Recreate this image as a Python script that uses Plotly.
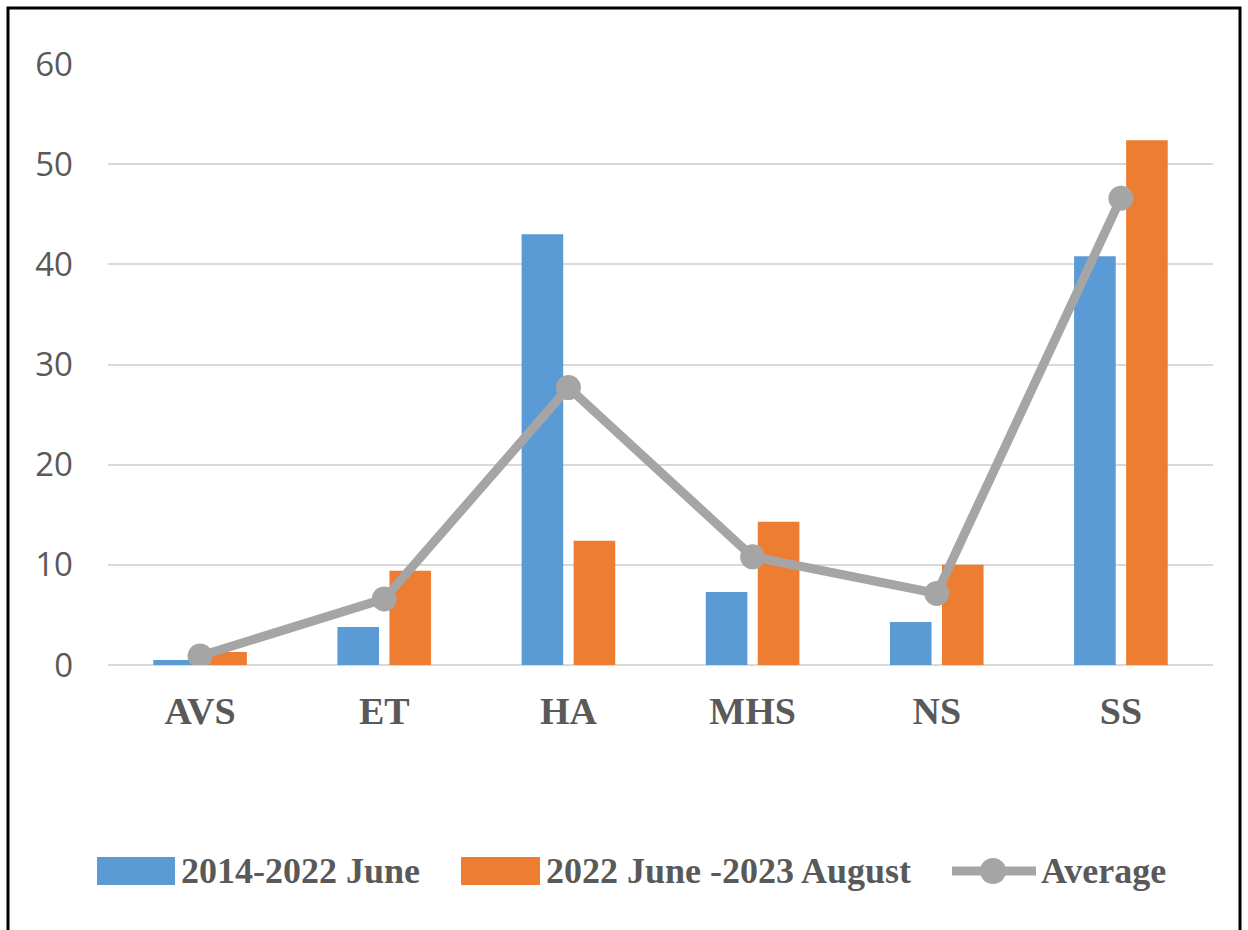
import plotly.graph_objects as go

categories = ["AVS", "ET", "HA", "MHS", "NS", "SS"]
series_2014_2022 = [0.5, 3.8, 43.0, 7.3, 4.3, 40.8]
series_2022_2023 = [1.3, 9.4, 12.4, 14.3, 10.0, 52.4]
series_average = [0.9, 6.6, 27.7, 10.8, 7.15, 46.6]
y_ticks = [0, 10, 20, 30, 40, 50, 60]
legend_labels = ["2014-2022 June", "2022 June -2023 August", "Average"]

BLUE = "#5B9BD5"
ORANGE = "#ED7D31"
GRAY = "#A5A5A5"
TEXT = "#595959"

L, R, T, B = 108, 35, 64, 265
W, H = 1248, 930
PW, PH = W - L - R, H - T - B


def px(x):
    return (x - L) / PW


def py(y):
    return (H - B - y) / PH


fig = go.Figure()
fig.add_trace(go.Bar(x=categories, y=series_2014_2022, name=legend_labels[0],
                     marker=dict(color=BLUE, line=dict(width=0))))
fig.add_trace(go.Bar(x=categories, y=series_2022_2023, name=legend_labels[1],
                     marker=dict(color=ORANGE, line=dict(width=0))))
fig.add_trace(go.Scatter(x=categories, y=series_average, name=legend_labels[2],
                         mode="lines+markers",
                         line=dict(color=GRAY, width=9),
                         marker=dict(color=GRAY, size=25)))

shapes = [
    # outer border
    dict(type="rect", xref="paper", yref="paper",
         x0=px(8), x1=px(1240), y0=py(8), y1=py(960),
         line=dict(color="black", width=3), fillcolor="rgba(0,0,0,0)", layer="above"),
    # legend symbols
    dict(type="rect", xref="paper", yref="paper",
         x0=px(97), x1=px(175), y0=py(885), y1=py(857),
         line=dict(width=0), fillcolor=BLUE),
    dict(type="rect", xref="paper", yref="paper",
         x0=px(461), x1=px(540), y0=py(885), y1=py(857),
         line=dict(width=0), fillcolor=ORANGE),
    dict(type="line", xref="paper", yref="paper",
         x0=px(952), x1=px(1036), y0=py(871), y1=py(871),
         line=dict(color=GRAY, width=9)),
    dict(type="circle", xref="paper", yref="paper",
         x0=px(980), x1=px(1006), y0=py(884), y1=py(858),
         line=dict(width=0), fillcolor=GRAY),
]

legend_font = dict(family="Liberation Serif", size=36, color=TEXT, weight="bold")
annotations = [
    dict(x=px(179), y=py(871), xref="paper", yref="paper", text=legend_labels[0],
         showarrow=False, xanchor="left", yanchor="middle", font=legend_font),
    dict(x=px(544), y=py(871), xref="paper", yref="paper", text=legend_labels[1],
         showarrow=False, xanchor="left", yanchor="middle", font=legend_font),
    dict(x=px(1039), y=py(871), xref="paper", yref="paper", text=legend_labels[2],
         showarrow=False, xanchor="left", yanchor="middle", font=legend_font),
]

fig.update_layout(
    width=W, height=H,
    margin=dict(l=L, r=R, t=T, b=B, pad=0),
    paper_bgcolor="white", plot_bgcolor="white",
    barmode="group", bargap=0.435, bargroupgap=0.2,
    showlegend=False,
    shapes=shapes,
    annotations=annotations,
    xaxis=dict(showgrid=False, showline=False, zeroline=False, ticks="",
               tickfont=dict(family="Liberation Serif", size=38, color=TEXT, weight="bold"),
               ticklabelstandoff=20),
    yaxis=dict(range=[0, 60], tickvals=y_ticks, showgrid=True, gridcolor="#D9D9D9",
               gridwidth=2, zeroline=True, zerolinecolor="#D9D9D9", zerolinewidth=2,
               showline=False, ticks="",
               tickfont=dict(family="Open Sans", size=33, color=TEXT),
               ticklabelstandoff=34),
)

fig.write_html("out.html")
